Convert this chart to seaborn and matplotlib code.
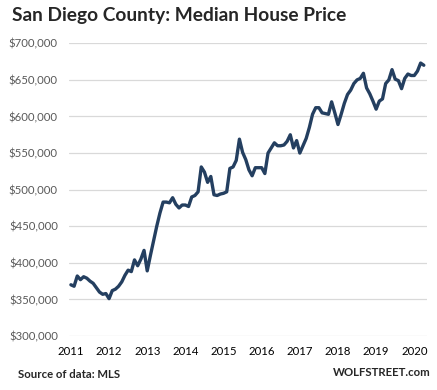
import numpy as np
import pandas as pd
import seaborn as sns
import matplotlib.pyplot as plt
from matplotlib.ticker import FuncFormatter

# median house price, monthly, Jan 2011 - Apr 2020 (thousands of $)
price_k = [370, 368, 382, 377, 381, 379, 375, 372, 366, 360, 357, 358,
           351, 362, 364, 368, 374, 383, 390, 388, 404, 396, 405, 417,
           389, 410, 430, 450, 468, 483, 483, 482, 489, 480, 475, 479,
           479, 477, 490, 492, 497, 531, 524, 510, 518, 493, 492, 494,
           495, 497, 529, 531, 540, 569, 551, 541, 527, 519, 530, 530,
           530, 522, 550, 557, 564, 560, 560, 561, 566, 575, 557, 567,
           550, 560, 570, 585, 603, 612, 612, 605, 604, 603, 620, 605,
           589, 603, 618, 630, 636, 645, 650, 652, 659, 639, 631, 621,
           610, 621, 624, 645, 650, 664, 651, 649, 638, 652, 658, 656,
           656, 662, 673, 670]
year_labels = ['2011', '2012', '2013', '2014', '2015', '2016', '2017', '2018', '2019', '2020']
y_ticks = [300000, 350000, 400000, 450000, 500000, 550000, 600000, 650000, 700000]

df = pd.DataFrame({'month': np.arange(len(price_k)),
                   'price': np.array(price_k) * 1000})

sns.set_style('white')
plt.rcParams['font.family'] = ['Lato', 'DejaVu Sans']

fig = plt.figure(figsize=(4.37, 3.90), dpi=100)
ax = fig.add_axes([69 / 437, 1 - 336 / 390, (427 - 69) / 437, (336 - 43.3) / 390])

sns.lineplot(data=df, x='month', y='price', ax=ax, color='#243f60', linewidth=2.4)

ax.set_ylim(300000, 700000)
ax.set_xlim(-0.6, 112)
ax.set_yticks(y_ticks)
ax.yaxis.set_major_formatter(FuncFormatter(lambda v, p: '${:,.0f}'.format(v)))
ax.set_xticks(np.arange(len(year_labels)) * 12)
ax.set_xticklabels(year_labels)
ax.grid(axis='y', color='#d9d9d9', linewidth=0.9)
ax.set_axisbelow(True)
for s in ax.spines.values():
    s.set_visible(False)
ax.tick_params(axis='y', length=0, pad=8, labelsize=8.2, labelcolor='#595959')
ax.tick_params(axis='x', length=0, pad=7, labelsize=8.2, labelcolor='black')
ax.set_xlabel('')
ax.set_ylabel('')

fig.text(12 / 437, 1 - 15 / 390, 'San Diego County: Median House Price',
         fontsize=13.8, fontweight='bold', va='center', ha='left')
fig.text(18 / 437, 1 - 375 / 390, 'Source of data: MLS',
         fontsize=8.2, fontweight='bold', va='center', ha='left')
fig.text(431 / 437, 1 - 373 / 390, 'WOLFSTREET.com',
         fontsize=8.2, fontweight='bold', va='center', ha='right')

fig.savefig('out.png', dpi=100)
